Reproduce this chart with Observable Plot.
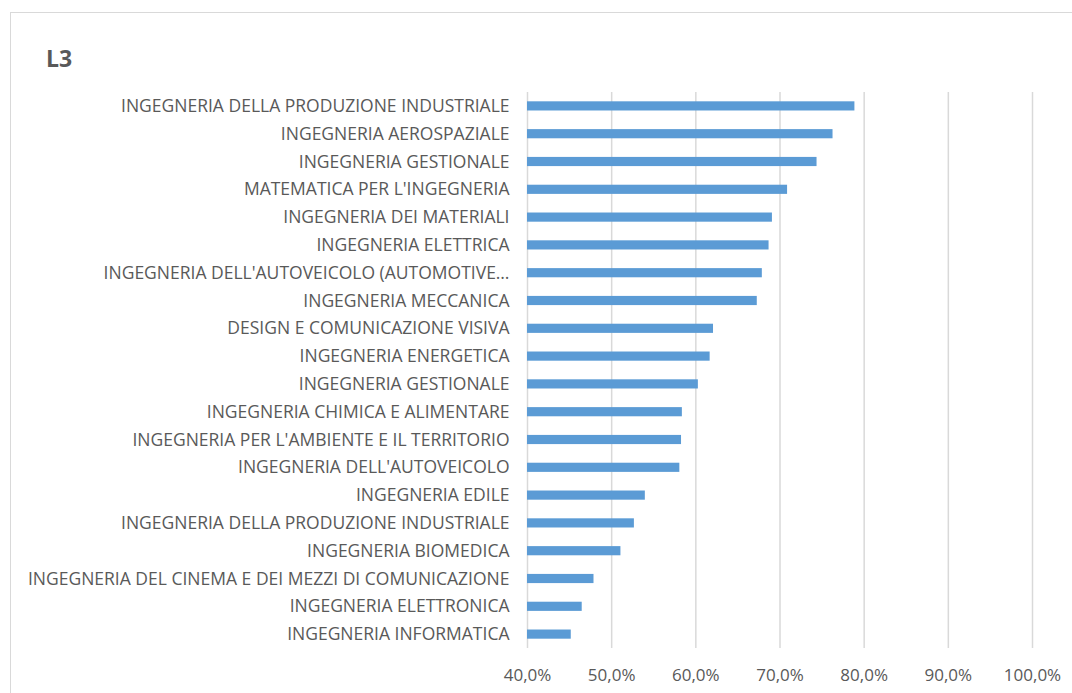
<!DOCTYPE html>
<html>
<head>
<meta charset="utf-8">
<script src="https://cdn.jsdelivr.net/npm/d3@7"></script>
<script src="https://cdn.jsdelivr.net/npm/@observablehq/plot@0.6"></script>
<style>
  html, body { margin: 0; padding: 0; background: #fff; }
  #wrap { position: relative; width: 1072px; height: 693px; overflow: hidden; font-family: "Open Sans", sans-serif; }
  #frame { position: absolute; left: 10px; top: 12px; width: 1100px; height: 700px; border: 1.5px solid #d9d9d9; box-sizing: border-box; }
  #title { position: absolute; left: 46px; top: 42px; font-size: 23px; font-weight: bold; color: #595959; }
  #chart { position: absolute; left: 0; top: 0; }
</style>
</head>
<body>
<div id="wrap">
  <div id="frame"></div>
  <div id="title">L3</div>
  <div id="chart"></div>
</div>
<script>
const courses = [
  "INGEGNERIA DELLA PRODUZIONE INDUSTRIALE",
  "INGEGNERIA AEROSPAZIALE",
  "INGEGNERIA GESTIONALE",
  "MATEMATICA PER L'INGEGNERIA",
  "INGEGNERIA DEI MATERIALI",
  "INGEGNERIA ELETTRICA",
  "INGEGNERIA DELL'AUTOVEICOLO (AUTOMOTIVE…",
  "INGEGNERIA MECCANICA",
  "DESIGN E COMUNICAZIONE VISIVA",
  "INGEGNERIA ENERGETICA",
  "INGEGNERIA GESTIONALE",
  "INGEGNERIA CHIMICA E ALIMENTARE",
  "INGEGNERIA PER L'AMBIENTE E IL TERRITORIO",
  "INGEGNERIA DELL'AUTOVEICOLO",
  "INGEGNERIA EDILE",
  "INGEGNERIA DELLA PRODUZIONE INDUSTRIALE",
  "INGEGNERIA BIOMEDICA",
  "INGEGNERIA DEL CINEMA E DEI MEZZI DI COMUNICAZIONE",
  "INGEGNERIA ELETTRONICA",
  "INGEGNERIA INFORMATICA"
];
const values = [78.9, 76.3, 74.4, 70.9, 69.1, 68.7, 67.9, 67.3, 62.1, 61.7, 60.3, 58.4, 58.3, 58.1, 54.0, 52.7, 51.1, 47.9, 46.5, 45.2];
const xTicks = [40, 50, 60, 70, 80, 90, 100];

const data = courses.map((c, i) => ({i, course: c, value: values[i]}));
const pct = d => d.toFixed(1).replace(".", ",") + "%";

const chart = Plot.plot({
  width: 1072,
  height: 693,
  marginLeft: 527,
  marginRight: 40,
  marginTop: 92,
  marginBottom: 45,
  style: {fontFamily: "Open Sans, sans-serif", fontSize: "17.5px", color: "#595959", background: "transparent"},
  x: {domain: [40, 100], ticks: xTicks, tickFormat: pct, label: null},
  y: {domain: d3.range(courses.length), paddingInner: 0.67, paddingOuter: 0.335, round: false, label: null, tickFormat: i => courses[i]},
  marks: [
    Plot.ruleX(xTicks, {stroke: "#d9d9d9", strokeWidth: 1.5, strokeOpacity: 1}),
    Plot.barX(data, {x1: 40, x2: "value", y: "i", fill: "#5b9bd5"}),
    Plot.axisX({ticks: xTicks, tickSize: 0, tickPadding: 20, fontSize: 17, tickFormat: pct}),
    Plot.axisY({tickSize: 0, tickPadding: 18, fontSize: 17.5, tickFormat: i => courses[i]})
  ]
});
document.getElementById("chart").appendChild(chart);
</script>
</body>
</html>
